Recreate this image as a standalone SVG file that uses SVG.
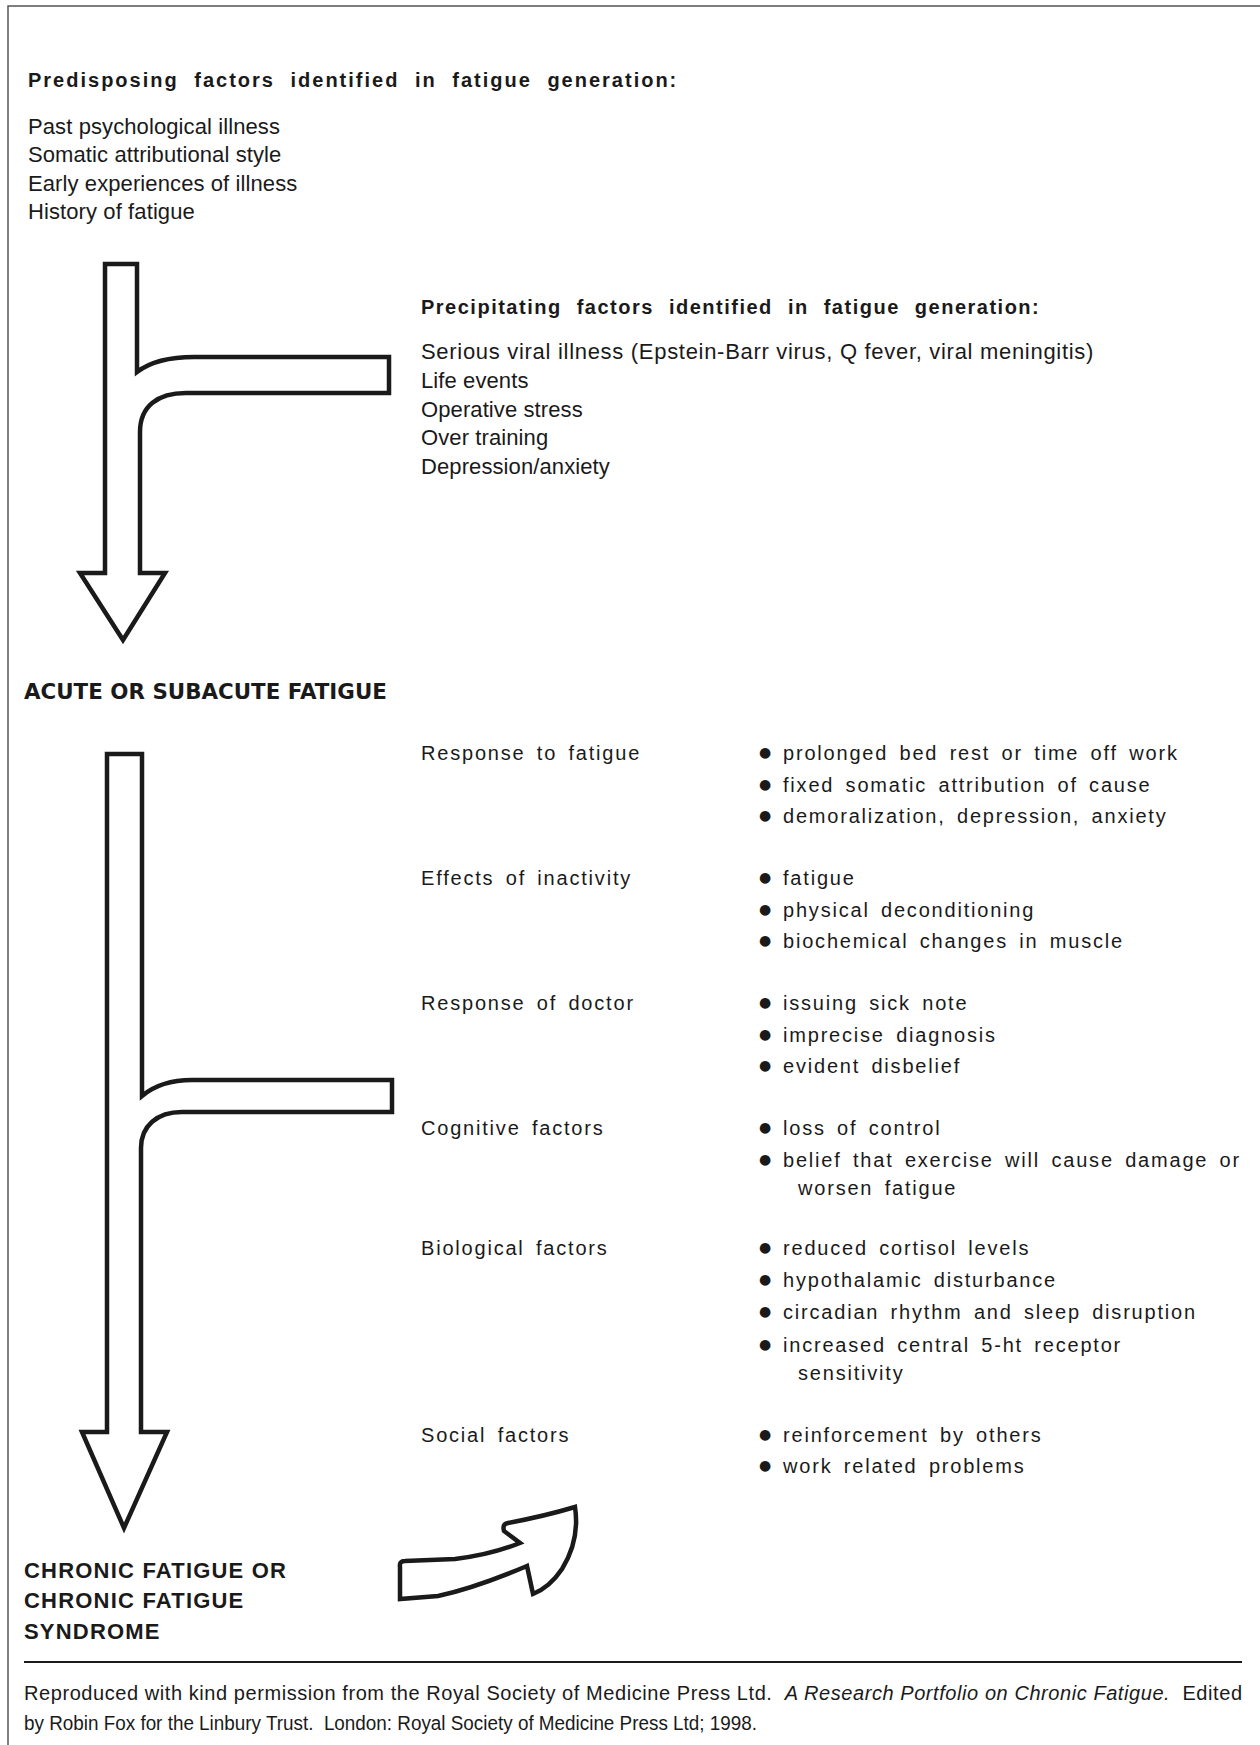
<svg xmlns="http://www.w3.org/2000/svg" width="1260" height="1745" viewBox="0 0 1260 1745">
<style>
text { font-family: "Liberation Sans", Arial, sans-serif; fill: #1a1a1a; }
.h { font-weight: bold; font-size: 20px; letter-spacing: 2px; word-spacing: 8px; }
.h2 { font-weight: bold; font-size: 20px; letter-spacing: 1.5px; word-spacing: 8px; }
.t { font-size: 22px; letter-spacing: 0.1px; }
.r { font-size: 20px; letter-spacing: 1.8px; word-spacing: 4px; }
.bu { font-family: "DejaVu Sans", sans-serif; font-size: 14px; letter-spacing: 0; }
.cap { font-family: "DejaVu Sans", sans-serif; font-weight: bold; font-size: 21.4px; }
.cap2 { font-weight: bold; font-size: 22px; letter-spacing: 1.2px; }
.f { font-size: 20px; white-space: pre; }
.arrow { fill: #ffffff; stroke: #1a1a1a; stroke-width: 4.5; stroke-linejoin: miter; }
.frame { stroke: #555555; stroke-width: 1.5; fill: none; }
</style>

<g id="frame">
  <path class="frame" d="M 8 1745 L 8 6 L 1260 6"/>
  <line x1="24" y1="1662" x2="1242" y2="1662" stroke="#1a1a1a" stroke-width="2"/>
</g>

<g id="connectors">
  <path id="arrow1" class="arrow" d="M 105 264 L 137 264 L 137 372 C 150 362 170 357 194 357 L 389 357 L 389 393 L 186 393 C 158 393 140 406 140 432 L 140 573 L 165 573 L 123 640 L 80 573 L 105 573 Z"/>
  <path id="arrow2" class="arrow" d="M 107 754 L 142 754 L 142 1096 C 155 1085 172 1080 192 1080 L 392 1080 L 392 1112 L 182 1112 C 157 1112 141 1126 141 1148 L 141 1432 L 167 1432 L 124 1528 L 82 1432 L 107 1432 Z"/>
  <path id="arrow3" class="arrow" d="M 400 1567 Q 399 1561 405 1561 L 455 1559 Q 490 1555 520 1543 L 504 1531 Q 502 1524 508 1523 Q 545 1516 575 1507 Q 580 1540 562 1569 Q 550 1587 533 1594 L 527 1566 Q 475 1588 438 1596 L 400 1599 Z"/>
</g>

<g id="predisposing">
  <text class="h" x="28" y="87">Predisposing factors identified in fatigue generation:</text>
  <text class="t" x="28" y="134">Past psychological illness</text>
  <text class="t" x="28" y="162">Somatic attributional style</text>
  <text class="t" x="28" y="191">Early experiences of illness</text>
  <text class="t" x="28" y="219">History of fatigue</text>
</g>

<g id="precipitating">
  <text class="h2" x="421" y="314">Precipitating factors identified in fatigue generation:</text>
  <text class="t" x="421" y="359" style="letter-spacing:0.7px">Serious viral illness (Epstein-Barr virus, Q fever, viral meningitis)</text>
  <text class="t" x="421" y="388">Life events</text>
  <text class="t" x="421" y="417">Operative stress</text>
  <text class="t" x="421" y="445">Over training</text>
  <text class="t" x="421" y="474">Depression/anxiety</text>
</g>

<g id="acute">
  <text class="cap" x="24" y="699">ACUTE OR SUBACUTE FATIGUE</text>
</g>

<g id="perpetuating">
  <text class="r" x="421" y="760">Response to fatigue</text>
  <text class="r" y="760"><tspan class="bu" x="759" dy="-3">●</tspan><tspan x="783" dy="3">prolonged bed rest or time off work</tspan></text>
  <text class="r" y="792"><tspan class="bu" x="759" dy="-3">●</tspan><tspan x="783" dy="3">fixed somatic attribution of cause</tspan></text>
  <text class="r" y="823"><tspan class="bu" x="759" dy="-3">●</tspan><tspan x="783" dy="3">demoralization, depression, anxiety</tspan></text>

  <text class="r" x="421" y="885">Effects of inactivity</text>
  <text class="r" y="885"><tspan class="bu" x="759" dy="-3">●</tspan><tspan x="783" dy="3">fatigue</tspan></text>
  <text class="r" y="917"><tspan class="bu" x="759" dy="-3">●</tspan><tspan x="783" dy="3">physical deconditioning</tspan></text>
  <text class="r" y="948"><tspan class="bu" x="759" dy="-3">●</tspan><tspan x="783" dy="3">biochemical changes in muscle</tspan></text>

  <text class="r" x="421" y="1010">Response of doctor</text>
  <text class="r" y="1010"><tspan class="bu" x="759" dy="-3">●</tspan><tspan x="783" dy="3">issuing sick note</tspan></text>
  <text class="r" y="1042"><tspan class="bu" x="759" dy="-3">●</tspan><tspan x="783" dy="3">imprecise diagnosis</tspan></text>
  <text class="r" y="1073"><tspan class="bu" x="759" dy="-3">●</tspan><tspan x="783" dy="3">evident disbelief</tspan></text>

  <text class="r" x="421" y="1135">Cognitive factors</text>
  <text class="r" y="1135"><tspan class="bu" x="759" dy="-3">●</tspan><tspan x="783" dy="3">loss of control</tspan></text>
  <text class="r" y="1167"><tspan class="bu" x="759" dy="-3">●</tspan><tspan x="783" dy="3">belief that exercise will cause damage or</tspan></text>
  <text class="r" x="798" y="1195">worsen fatigue</text>

  <text class="r" x="421" y="1255">Biological factors</text>
  <text class="r" y="1255"><tspan class="bu" x="759" dy="-3">●</tspan><tspan x="783" dy="3">reduced cortisol levels</tspan></text>
  <text class="r" y="1287"><tspan class="bu" x="759" dy="-3">●</tspan><tspan x="783" dy="3">hypothalamic disturbance</tspan></text>
  <text class="r" y="1319"><tspan class="bu" x="759" dy="-3">●</tspan><tspan x="783" dy="3">circadian rhythm and sleep disruption</tspan></text>
  <text class="r" y="1352"><tspan class="bu" x="759" dy="-3">●</tspan><tspan x="783" dy="3">increased central 5-ht receptor</tspan></text>
  <text class="r" x="798" y="1380">sensitivity</text>

  <text class="r" x="421" y="1442">Social factors</text>
  <text class="r" y="1442"><tspan class="bu" x="759" dy="-3">●</tspan><tspan x="783" dy="3">reinforcement by others</tspan></text>
  <text class="r" y="1473"><tspan class="bu" x="759" dy="-3">●</tspan><tspan x="783" dy="3">work related problems</tspan></text>
</g>

<g id="chronic">
  <text class="cap2" x="24" y="1578">CHRONIC FATIGUE OR</text>
  <text class="cap2" x="24" y="1608">CHRONIC FATIGUE</text>
  <text class="cap2" x="24" y="1639">SYNDROME</text>
</g>

<g id="footer">
  <text class="f" x="24" y="1700" textLength="1218" lengthAdjust="spacing">Reproduced with kind permission from the Royal Society of Medicine Press Ltd.  <tspan font-style="italic">A Research Portfolio on Chronic Fatigue.</tspan>  Edited</text>
  <text class="f" x="24" y="1730" textLength="733" lengthAdjust="spacingAndGlyphs">by Robin Fox for the Linbury Trust.  London: Royal Society of Medicine Press Ltd; 1998.</text>
</g>
</svg>
